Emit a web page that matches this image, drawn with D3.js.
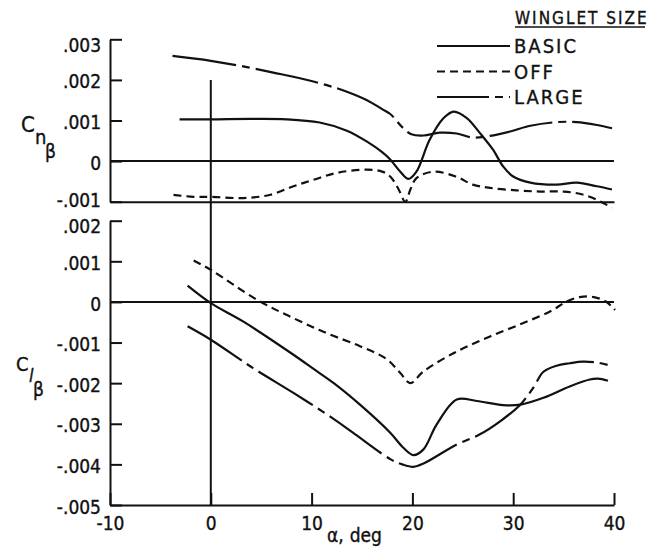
<!DOCTYPE html>
<html>
<head>
<meta charset="utf-8">
<script src="https://cdn.jsdelivr.net/npm/d3@7"></script>
<style>
  html, body { margin: 0; padding: 0; background: #fff; }
  svg { display: block; }
  text { font-family: "DejaVu Sans Condensed", "DejaVu Sans", sans-serif; font-stretch: condensed; fill: #111; stroke: #111; stroke-width: 0.35px; }
</style>
</head>
<body>
<svg id="chart" width="661" height="549"></svg>
<script>
// Angle of attack ticks and coefficient ticks
const alphaTicks = [-10, 0, 10, 20, 30, 40];
const cnTicks = [-0.001, 0, 0.001, 0.002, 0.003];
const clTicks = [-0.005, -0.004, -0.003, -0.002, -0.001, 0, 0.001, 0.002];

// Legend entries
const seriesNames = ["BASIC", "OFF", "LARGE"];

// Directional stability, C_n_beta  [alpha (deg), value]
const cnBasic = [[-3.1, 0.00103], [0, 0.00103], [4, 0.00104], [7.5, 0.00103], [10.8, 0.00095], [13.5, 0.00075], [15.5, 0.00048], [17.0, 0.00022], [17.8, 0.00004], [18.8, -0.00026], [19.6, -0.00044], [20.4, -0.00026], [21.7, 0.00052], [23.1, 0.00106], [24.1, 0.00122], [25.4, 0.00106], [26.7, 0.00069], [28.0, 0.00028], [29.0, -0.00013], [30.0, -0.00038], [31.7, -0.00053], [34.3, -0.00058], [36.3, -0.00053], [38.3, -0.00062], [39.8, -0.00070]];
const cnOff = [[-3.7, -0.00083], [-1.7, -0.00088], [0, -0.00088], [3.2, -0.00091], [5.9, -0.00083], [8.2, -0.00062], [10.2, -0.00046], [12.5, -0.00029], [15.5, -0.00021], [17.0, -0.00026], [17.8, -0.00038], [18.6, -0.00068], [19.3, -0.00100], [19.8, -0.00070], [20.4, -0.00042], [22.1, -0.00026], [24.4, -0.00039], [26.0, -0.00058], [27.7, -0.00066], [30.3, -0.00072], [32.7, -0.00075], [35.0, -0.00075], [37.0, -0.00083], [38.6, -0.00099], [39.8, -0.00115]];
const cnLarge = [[-3.8, 0.00259], [0, 0.00247], [3.7, 0.00231], [6.2, 0.00218], [8.85, 0.00204], [11.5, 0.00187], [13.5, 0.00171], [15.5, 0.00150], [17.0, 0.00128], [17.8, 0.00116], [19.1, 0.00081], [19.9, 0.00066], [21.1, 0.00063], [22.7, 0.00070], [24.4, 0.00068], [26.0, 0.00058], [27.7, 0.00062], [29.7, 0.00073], [31.7, 0.00087], [34.3, 0.00096], [36.3, 0.00096], [38.3, 0.00089], [39.8, 0.00081]];

// Lateral stability, C_l_beta  [alpha (deg), value]
const clBasic = [[-2.3, 0.00040], [0, -0.00003], [3.2, -0.00048], [8.2, -0.00130], [10.2, -0.00165], [12.2, -0.00200], [14.8, -0.00253], [17.8, -0.00322], [19.1, -0.00359], [20.1, -0.00377], [21.1, -0.00363], [22.4, -0.00302], [24.4, -0.00240], [26.4, -0.00244], [29.0, -0.00254], [30.7, -0.00253], [33.0, -0.00236], [35.6, -0.00208], [37.6, -0.00191], [38.4, -0.00189], [39.4, -0.00194]];
const clOff = [[-1.7, 0.00102], [0, 0.00079], [4.6, 0.00005], [8.2, -0.00040], [11.5, -0.00077], [14.8, -0.00109], [17.4, -0.00140], [18.8, -0.00175], [19.8, -0.00200], [21.1, -0.00171], [24.4, -0.00122], [27.7, -0.00085], [31.0, -0.00052], [33.7, -0.00023], [35.3, 0.00001], [36.6, 0.00012], [38.0, 0.00012], [39.2, 0.00001], [40.1, -0.00020]];
const clLarge = [[-2.3, -0.00060], [0, -0.00093], [4.2, -0.00163], [8.2, -0.00224], [12.0, -0.00285], [14.1, -0.00322], [17.8, -0.00387], [19.0, -0.00400], [20.1, -0.00406], [21.1, -0.00398], [24.4, -0.00351], [26.7, -0.00326], [28.7, -0.00294], [30.7, -0.00253], [32.0, -0.00211], [33.0, -0.00172], [34.3, -0.00157], [35.6, -0.00151], [36.9, -0.00147], [38.5, -0.00150], [39.8, -0.00158]];

const dashes = { BASIC: null, OFF: "8,5", LARGE: "64,6,8,6" };

const svg = d3.select("#chart");

const x = d3.scaleLinear().domain([-10, 40]).range([110, 614]);
const yN = d3.scaleLinear().domain([-0.001, 0.003]).range([201.7, 39.3]);
const yL = d3.scaleLinear().domain([-0.005, 0.002]).range([505, 220.7]);

const fmt = v => v === 0 ? "0" : (v < 0 ? "-" : "") + "." + String(Math.round(Math.abs(v) * 1000)).padStart(3, "0");

function styleAxis(g) {
  g.selectAll("path, line").attr("stroke", "#111").attr("stroke-width", 2);
  g.selectAll("text").attr("fill", "#111").style("font-size", "19px");
}

// Left axes with inward ticks; the uppermost label of each panel sits a little lower
function leftAxis(scale, ticks, lowest) {
  svg.append("g").attr("transform", `translate(${x(-10)},0)`)
    .call(d3.axisLeft(scale).tickValues(ticks).tickFormat(fmt).tickSizeInner(-12).tickSizeOuter(0).tickPadding(9))
    .call(styleAxis)
    .selectAll(".tick text")
    .attr("y", d => d === d3.max(ticks) ? 6 : (d === lowest ? -1 : 2));
}
leftAxis(yN, cnTicks, -0.001);
leftAxis(yL, clTicks, null);

// Bottom edge of the upper panel
svg.append("g").attr("transform", `translate(0,${yN(-0.001)})`)
  .call(d3.axisBottom(x).tickValues([]).tickSizeOuter(0))
  .call(styleAxis);

// Alpha axis with upward ticks
svg.append("g").attr("transform", `translate(0,${yL(-0.005)})`)
  .call(d3.axisBottom(x).tickValues(alphaTicks).tickFormat(d => String(d)).tickSizeInner(-12).tickSizeOuter(0).tickPadding(12))
  .call(styleAxis);

// Zero reference lines
svg.append("line").attr("x1", x(-10)).attr("x2", x(40)).attr("y1", yN(0)).attr("y2", yN(0))
  .attr("stroke", "#111").attr("stroke-width", 2);
svg.append("line").attr("x1", x(-10)).attr("x2", x(40)).attr("y1", yL(0)).attr("y2", yL(0))
  .attr("stroke", "#111").attr("stroke-width", 2);
// alpha = 0 reference through both panels
svg.append("line").attr("x1", x(0)).attr("x2", x(0)).attr("y1", yN(0.002)).attr("y2", yL(-0.005))
  .attr("stroke", "#111").attr("stroke-width", 2);

function drawCurve(data, yScale, name) {
  const line = d3.line().x(d => x(d[0])).y(d => yScale(d[1])).curve(d3.curveCatmullRom.alpha(0.5));
  svg.append("path").attr("d", line(data)).attr("fill", "none")
    .attr("stroke", "#111").attr("stroke-width", 2.2)
    .attr("stroke-linejoin", "round")
    .attr("stroke-dasharray", dashes[name]);
}

drawCurve(cnBasic, yN, "BASIC");
drawCurve(cnOff, yN, "OFF");
drawCurve(cnLarge, yN, "LARGE");
drawCurve(clBasic, yL, "BASIC");
drawCurve(clOff, yL, "OFF");
drawCurve(clLarge, yL, "LARGE");

// Y labels
const cn = svg.append("text").attr("x", 21).attr("y", 132).style("font-size", "22px");
cn.append("tspan").text("C");
cn.append("tspan").attr("x", 35).attr("y", 144).style("font-size", "20px").text("n");
cn.append("tspan").attr("x", 45).attr("y", 158).style("font-size", "19px").text("β");

const cl = svg.append("text").attr("x", 16).attr("y", 371).style("font-size", "20px");
cl.append("tspan").text("C");
cl.append("tspan").attr("x", 29).attr("y", 382).style("font-size", "18px").style("font-style", "italic").text("l");
cl.append("tspan").attr("x", 33).attr("y", 396).style("font-size", "19px").text("β");

// X label
const xl = svg.append("text").attr("x", 327).attr("y", 542).style("font-size", "19px");
xl.append("tspan").text("α,");
xl.append("tspan").attr("dx", 6).text("deg");

// Legend
svg.append("text").attr("x", 515).attr("y", 24).style("font-size", "17px").style("letter-spacing", "2px")
  .text("WINGLET SIZE");
svg.append("line").attr("x1", 515).attr("x2", 645).attr("y1", 27).attr("y2", 27)
  .attr("stroke", "#111").attr("stroke-width", 1.5);

const legendY = d3.scalePoint().domain(seriesNames).range([46, 97]);
seriesNames.forEach(name => {
  const yy = legendY(name);
  svg.append("line").attr("x1", 437).attr("x2", 510).attr("y1", yy).attr("y2", yy)
    .attr("stroke", "#111").attr("stroke-width", 2.2).attr("stroke-dasharray", name === "LARGE" ? "52,6,8,6" : dashes[name]);
  svg.append("text").attr("x", 514).attr("y", yy).attr("dy", "0.36em")
    .style("font-size", "20px").style("letter-spacing", "2px").text(name);
});
</script>
</body>
</html>
